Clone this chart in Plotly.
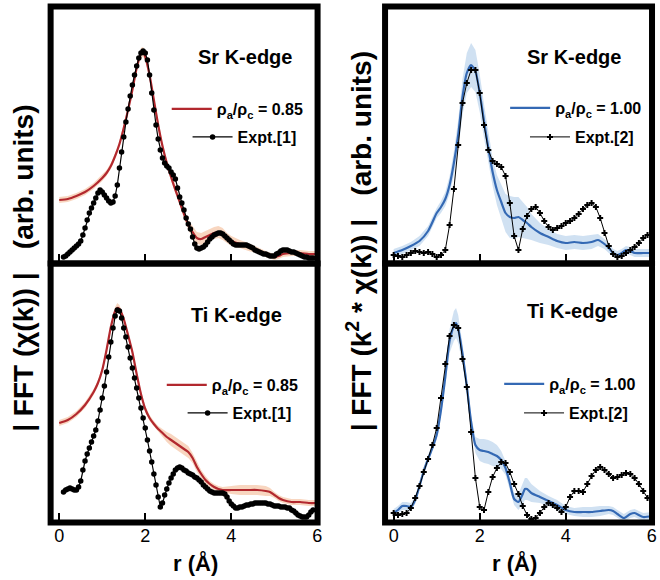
import plotly.graph_objects as go

# ------------------------------------------------------------------
# |FFT| of EXAFS, r in Angstrom, intensities in arbitrary units
# ------------------------------------------------------------------

# Sr K-edge, model rho_a/rho_c = 0.85
sr085_r = [0.0, 0.2, 0.4, 0.6, 0.8, 1.0, 1.1, 1.2, 1.3, 1.4, 1.5, 1.6, 1.7, 1.8, 1.9, 1.95,
           2.0, 2.1, 2.2, 2.3, 2.4, 2.5, 2.6, 2.7, 2.8, 2.9, 3.0, 3.1, 3.2, 3.3, 3.4, 3.5,
           3.6, 3.7, 3.8, 3.9, 4.0, 4.2, 4.4, 4.6, 4.8, 5.0, 5.1, 5.2, 5.4, 5.6, 5.8, 6.0]
sr085_y = [63, 64, 67, 71, 77, 85, 90, 97, 107, 119, 135, 153, 173, 195, 210, 211,
           206, 188, 163, 138, 117, 100, 86, 73, 61, 49, 38, 31, 25, 24, 26, 28,
           30, 31, 29, 25, 22, 19, 16, 13, 9, 6, 7, 9, 10, 10, 9, 9]
sr085_err = [3, 3, 3, 3, 3, 3, 3, 3, 3, 3, 3, 3, 3, 4, 5, 5,
             4, 3, 3, 3, 3, 3, 4, 4, 4, 4, 5, 6, 6, 6, 6, 6,
             6, 6, 6, 5, 5, 4, 4, 3, 3, 3, 3, 3, 3, 3, 3, 3]

# Sr K-edge, experiment [1] (sampled every 0.05 A from 0.10 A)
sr_exp1_y = [6, 7, 9, 11, 13, 15, 17, 19, 22, 28, 35, 43, 50, 55, 60, 65, 70, 73,
             71, 68, 65, 62, 60, 61, 67, 78, 95, 111, 126, 141, 154, 167, 178, 188, 197, 205, 210, 212,
             210, 203, 188, 170, 153, 138, 124, 113, 105, 100, 97, 95, 91, 88, 84, 75, 66, 60, 53, 45,
             39, 34, 26, 19, 15, 14, 15, 16, 18, 21, 24, 26, 28, 29, 30, 30, 29, 27, 25, 23,
             21, 19, 18, 18, 18, 18, 18, 18, 17, 16, 15, 13, 12, 11, 10, 9, 9, 8, 7, 7,
             7, 9, 10, 12, 13, 13, 13, 12, 11, 11, 10, 9, 8, 7, 6, 6, 5, 5, 5]

# Ti K-edge, model rho_a/rho_c = 0.85
ti085_r = [0.0, 0.2, 0.4, 0.6, 0.8, 0.9, 1.0, 1.1, 1.2, 1.3, 1.35,
           1.4, 1.5, 1.6, 1.7, 1.8, 1.9, 2.0, 2.1, 2.2, 2.3, 2.4, 2.5, 2.6, 2.7, 2.8,
           2.9, 3.0, 3.1, 3.2, 3.3, 3.4, 3.5, 3.6, 3.7, 3.8,
           4.0, 4.2, 4.4, 4.6, 4.8, 4.9, 5.0, 5.1, 5.2, 5.4, 5.6, 5.8, 6.0]
ti085_y = [99, 102, 108, 117, 130, 139, 152, 172, 195, 211, 214,
           213, 203, 187, 170, 148, 128, 113, 104, 98, 93, 89, 85, 82, 79, 76,
           73, 70, 64, 55, 48, 42, 38, 35, 33, 32,
           32, 32, 32, 32, 31, 30, 27, 24, 22, 20, 20, 19, 19]
ti085_err = [3, 3, 3, 3, 3, 3, 3, 3, 3, 4, 5,
             4, 3, 3, 3, 3, 3, 3, 3, 3, 3, 4, 5, 6, 6, 6,
             6, 6, 5, 5, 4, 4, 3, 3, 3, 3,
             4, 5, 5, 5, 5, 4, 3, 3, 3, 3, 3, 3, 3]

# Ti K-edge, experiment [1] (sampled every 0.05 A from 0.10 A)
ti_exp1_y = [30, 32, 33, 34, 33, 32, 32, 35, 41, 52, 61, 68, 74, 80, 86, 92, 101, 112,
             124, 136, 150, 165, 180, 194, 206, 212, 211, 204, 194, 185, 175, 164, 154, 144, 134, 124, 114, 104,
             94, 82, 71, 60, 48, 37, 25, 15, 19, 27, 33, 39, 44, 48, 52, 54, 55, 54, 52, 51,
             49, 48, 47, 45, 44, 42, 40, 37, 35, 33, 31, 30, 29, 29, 29, 29, 29, 28, 25, 21,
             18, 16, 14, 14, 15, 15, 16, 17, 17, 18, 18, 19, 19, 19, 19, 19, 19, 18, 18, 17,
             16, 16, 16, 15, 15, 15, 14, 14, 12, 11, 9, 7, 6, 5, 5, 5, 7, 10, 12]

# Sr K-edge, model rho_a/rho_c = 1.00
sr100_r = [0.0, 0.2, 0.4, 0.6, 0.8,
           1.0, 1.1, 1.2, 1.3, 1.4, 1.5, 1.6, 1.7, 1.8, 1.9, 2.0, 2.1, 2.2, 2.3, 2.4, 2.5,
           2.6, 2.7, 2.8, 2.9, 3.0, 3.1, 3.2,
           3.4, 3.6, 3.8, 4.0, 4.2, 4.4, 4.6, 4.75, 4.9,
           5.0, 5.1, 5.2, 5.3, 5.4, 5.5, 5.6, 5.8, 6.0]
sr100_y = [10, 13, 17, 22, 32,
           50, 56, 64, 78, 100, 128, 166, 190, 198, 192, 170, 142, 115, 91, 73, 61,
           50, 46, 45, 46, 43, 40, 36,
           30, 26, 22, 20, 21, 20, 21, 23, 19,
           15, 10, 8, 10, 13, 12, 10, 10, 10]
sr100_err = [4, 4, 4, 5, 5,
             5, 6, 7, 9, 12, 15, 18, 20, 22, 21, 19, 17, 15, 14, 15, 17,
             19, 21, 21, 20, 18, 16, 13,
             10, 8, 7, 7, 7, 7, 7, 6, 5,
             5, 4, 4, 4, 4, 4, 4, 4, 4]

# Sr K-edge, experiment [2] (sampled every 0.1 A from 0.0 A)
sr_exp2_y = [8, 7, 6, 8, 10, 12, 11, 10, 11, 9,
             6, 8, 13, 38, 74, 118, 160, 180, 193, 193,
             170, 138, 113, 102, 99, 96, 87, 60, 27, 13,
             34, 47, 54, 56, 50, 42, 36, 33, 35, 37,
             40, 42, 45, 49, 54, 58, 60, 56, 45, 30,
             17, 9, 6, 7, 10, 13, 16, 20, 25, 28]

# Ti K-edge, model rho_a/rho_c = 1.00
ti100_r = [0.0, 0.1, 0.2, 0.3, 0.4, 0.5, 0.6, 0.7, 0.8, 0.9, 1.0, 1.1, 1.2, 1.3, 1.4, 1.45,
           1.5, 1.6, 1.7, 1.8, 1.9, 2.0, 2.1, 2.2, 2.3, 2.4, 2.5, 2.6, 2.7, 2.8, 2.9, 3.0,
           3.05, 3.1, 3.2, 3.4, 3.6, 3.8, 4.0, 4.2, 4.4, 4.6, 4.8, 5.0,
           5.1, 5.2, 5.35, 5.5, 5.6, 5.8, 6.0]
ti100_y = [9, 12, 16, 16, 15, 22, 36, 51, 63, 74, 87, 112, 145, 181, 196, 199,
           193, 168, 136, 100, 77, 72, 71, 70, 68, 66, 62, 54, 39, 23, 20, 28,
           33, 33, 29, 25, 21, 17, 12, 10, 10, 10, 11, 12,
           11, 8, 4, 8, 9, 5, 6]
ti100_err = [4, 4, 4, 4, 4, 4, 4, 4, 4, 4, 4, 6, 8, 12, 15, 15,
             14, 10, 7, 6, 8, 11, 12, 12, 12, 11, 9, 7, 6, 6, 8, 10,
             11, 11, 9, 6, 5, 5, 4, 4, 5, 5, 5, 4,
             4, 4, 4, 4, 4, 4, 4]

# Ti K-edge, experiment [2] (sampled every 0.1 A from 0.0 A)
ti_exp2_y = [9, 7, 8, 9, 14, 24, 36, 50, 63, 77,
             94, 124, 158, 186, 197, 194, 163, 135, 90, 44,
             15, 12, 30, 45, 54, 60, 59, 50, 38, 28,
             16, 7, 3, 4, 9, 15, 19, 17, 14, 10,
             15, 25, 31, 31, 30, 38, 46, 52, 55, 52,
             48, 44, 45, 47, 49, 48, 44, 38, 31, 24]

# sampling grids of the measured spectra
exp1_r = [round(0.10 + 0.05 * i, 2) for i in range(len(sr_exp1_y))]
exp2_r = [round(0.1 * i, 1) for i in range(len(sr_exp2_y))]

tick_vals = [0, 2, 4, 6]
tick_text = ["0", "2", "4", "6"]

RED = "#b2282e"
RED_BAND = "rgba(242,180,140,0.55)"
BLUE = "#3469b4"
BLUE_BAND = "rgba(150,188,226,0.45)"
FONT = "Liberation Sans, Arial, Helvetica, sans-serif"

W, H = 660, 580

panels = [
    dict(ax="1", r=sr085_r, y=sr085_y, err=sr085_err, color=RED, band=RED_BAND,
         model="ρ<sub>a</sub>/ρ<sub>c</sub> = 0.85", er=exp1_r, ey=sr_exp1_y,
         expt="Expt.[1]", sym="circle", title="Sr K-edge", ymax=256.5),
    dict(ax="2", r=sr100_r, y=sr100_y, err=sr100_err, color=BLUE, band=BLUE_BAND,
         model="ρ<sub>a</sub>/ρ<sub>c</sub> = 1.00", er=exp2_r, ey=sr_exp2_y,
         expt="Expt.[2]", sym="cross", title="Sr K-edge", ymax=256.5),
    dict(ax="3", r=ti085_r, y=ti085_y, err=ti085_err, color=RED, band=RED_BAND,
         model="ρ<sub>a</sub>/ρ<sub>c</sub> = 0.85", er=exp1_r, ey=ti_exp1_y,
         expt="Expt.[1]", sym="circle", title="Ti K-edge", ymax=258.5),
    dict(ax="4", r=ti100_r, y=ti100_y, err=ti100_err, color=BLUE, band=BLUE_BAND,
         model="ρ<sub>a</sub>/ρ<sub>c</sub> = 1.00", er=exp2_r, ey=ti_exp2_y,
         expt="Expt.[2]", sym="cross", title="Ti K-edge", ymax=258.5),
]

# pixel boxes of the four frames (left, right, top, bottom)
boxes = {"1": (51, 320, 6.5, 263.5), "2": (388, 657, 6.5, 263.5),
         "3": (51, 320, 263.5, 522.5), "4": (388, 657, 263.5, 522.5)}
# legend anchor pixels: (x, y) for model entry and experiment entry
legend_px = {"1": ((168, 109), (189, 137)), "2": ((509, 108), (529, 137)),
             "3": ((163, 385), (184, 413)), "4": ((503, 384), (523, 413))}
title_px = {"1": (247, 57), "2": (578, 57), "3": (238, 315), "4": (577, 311)}

fig = go.Figure()
layout = dict(width=W, height=H, margin=dict(l=0, r=0, t=0, b=0),
              paper_bgcolor="white", plot_bgcolor="white",
              font=dict(family=FONT, color="black"), showlegend=True)
annotations, shapes = [], []

for i, p in enumerate(panels):
    a = p["ax"]
    xa = "x" if a == "1" else "x" + a
    ya = "y" if a == "1" else "y" + a
    lg_model = "legend" if i == 0 else "legend%d" % (2 * i + 1)
    lg_exp = "legend%d" % (2 * i + 2)

    upper = [v + e for v, e in zip(p["y"], p["err"])]
    lower = [v - e for v, e in zip(p["y"], p["err"])]
    fig.add_trace(go.Scatter(x=p["r"] + p["r"][::-1], y=upper + lower[::-1],
                             fill="toself", fillcolor=p["band"], line=dict(width=0),
                             mode="lines", hoverinfo="skip", showlegend=False,
                             xaxis=xa, yaxis=ya))
    fig.add_trace(go.Scatter(x=p["r"], y=p["y"], mode="lines", name=p["model"],
                             line=dict(color=p["color"], width=2.2, shape="spline", smoothing=0.6),
                             xaxis=xa, yaxis=ya, legend=lg_model))
    if p["sym"] == "circle":
        mk = dict(symbol="circle", size=5.5, color="black")
        lw = 1.2
    else:
        mk = dict(symbol="cross", size=5, color="black")
        lw = 1.0
    fig.add_trace(go.Scatter(x=p["er"], y=p["ey"], mode="lines+markers", name=p["expt"],
                             line=dict(color="black", width=lw), marker=mk,
                             xaxis=xa, yaxis=ya, legend=lg_exp))

    x0, x1, yt, yb = boxes[a]
    xkey = "xaxis" if a == "1" else "xaxis" + a
    ykey = "yaxis" if a == "1" else "yaxis" + a
    bottom_row = a in ("3", "4")
    layout[xkey] = dict(domain=[x0 / W, x1 / W], anchor=ya, range=[-0.2, 6.005],
                        showgrid=False, zeroline=False, showline=False,
                        ticks="inside", ticklen=10, tickwidth=2, tickcolor="black",
                        tickvals=tick_vals, ticktext=tick_text,
                        showticklabels=bottom_row,
                        tickfont=dict(size=18, family=FONT, color="black"))
    layout[ykey] = dict(domain=[1 - yb / H, 1 - yt / H], anchor=xa,
                        range=[-0.5, p["ymax"]], showgrid=False, zeroline=False,
                        showline=False, showticklabels=False, ticks="")

    shapes.append(dict(type="rect", xref=xa + " domain", yref=ya + " domain",
                       x0=0, x1=1, y0=0, y1=1, line=dict(color="black", width=6),
                       layer="above"))

    (mx, my), (ex, ey) = legend_px[a]
    layout[lg_model] = dict(x=mx / W, y=1 - my / H, xanchor="left", yanchor="middle",
                            bgcolor="rgba(0,0,0,0)", borderwidth=0, itemwidth=40,
                            font=dict(size=16, family=FONT, color="black", weight="bold"))
    layout[lg_exp] = dict(x=ex / W, y=1 - ey / H, xanchor="left", yanchor="middle",
                          bgcolor="rgba(0,0,0,0)", borderwidth=0, itemwidth=40,
                          font=dict(size=16, family=FONT, color="black", weight="bold"))

    tx, ty = title_px[a]
    annotations.append(dict(text="<b>%s</b>" % p["title"], x=tx / W, y=1 - ty / H,
                            xref="paper", yref="paper", showarrow=False,
                            xanchor="center", yanchor="middle",
                            font=dict(size=20, family=FONT, color="black")))

# axis titles
annotations.append(dict(text="<b>r (Å)</b>", x=197 / W, y=1 - 563 / H, xref="paper", yref="paper",
                        showarrow=False, xanchor="center", yanchor="middle",
                        font=dict(size=22, family=FONT)))
annotations.append(dict(text="<b>r (Å)</b>", x=518 / W, y=1 - 563 / H, xref="paper", yref="paper",
                        showarrow=False, xanchor="center", yanchor="middle",
                        font=dict(size=22, family=FONT)))
annotations.append(dict(text="<b>| FFT (χ(k)) |   (arb. units)</b>", x=23 / W, y=1 - 268 / H,
                        xref="paper", yref="paper", showarrow=False, textangle=-90,
                        xanchor="center", yanchor="middle", font=dict(size=28, family=FONT)))
annotations.append(dict(text="<b>| FFT (k<sup>2</sup> * χ(k)) |   (arb. units)</b>", x=362 / W,
                        y=1 - 241 / H, xref="paper", yref="paper", showarrow=False, textangle=-90,
                        xanchor="center", yanchor="middle", font=dict(size=28, family=FONT)))

layout["annotations"] = annotations
layout["shapes"] = shapes
fig.update_layout(**layout)
fig.write_html("out.html")
